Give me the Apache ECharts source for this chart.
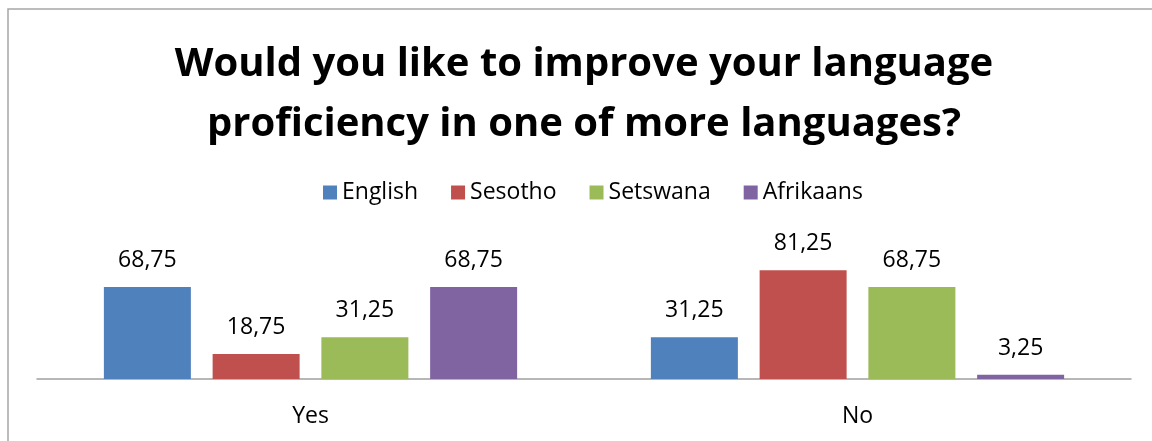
<!DOCTYPE html>
<html>
<head>
<meta charset="utf-8">
<script src="https://cdn.jsdelivr.net/npm/echarts@6/dist/echarts.min.js"></script>
<style>
  html, body { margin: 0; padding: 0; background: #fff; }
  #chart { width: 1152px; height: 441px; }
</style>
</head>
<body>
<div id="chart"></div>
<script>
const categories = ['Yes', 'No'];
const seriesNames = ['English', 'Sesotho', 'Setswana', 'Afrikaans'];
const english = [68.75, 31.25];
const sesotho = [18.75, 81.25];
const setswana = [31.25, 68.75];
const afrikaans = [68.75, 3.25];
const colors = ['#4f81bd', '#c0504d', '#9bbb59', '#8064a2'];

const FONT = '"Open Sans"';
const values = [english, sesotho, setswana, afrikaans];

const chart = echarts.init(document.getElementById('chart'));

chart.setOption({
  animation: false,
  color: colors,
  title: {
    text: 'Would you like to improve your language\nproficiency in one of more languages?',
    left: 584,
    textAlign: 'center',
    top: 35,
    padding: 0,
    textStyle: {
      fontFamily: FONT,
      fontWeight: 'bold',
      fontSize: 40,
      lineHeight: 60,
      color: '#000'
    }
  },
  legend: {
    top: 176,
    left: 318,
    itemWidth: 14,
    itemHeight: 14,
    itemGap: 33,
    icon: 'rect',
    textStyle: { fontFamily: FONT, fontSize: 23, color: '#000' },
    data: seriesNames
  },
  grid: { left: 37, right: 21, top: 245, bottom: 62, containLabel: false },
  xAxis: {
    type: 'category',
    data: categories,
    axisLine: { lineStyle: { color: '#a0a0a0', width: 1.5 } },
    axisTick: { show: false },
    axisLabel: { fontFamily: FONT, fontSize: 23, color: '#000', margin: 26 }
  },
  yAxis: {
    type: 'value',
    min: 0,
    max: 100,
    show: false,
    splitLine: { show: false }
  },
  graphic: [{
    type: 'rect',
    shape: { x: 8, y: 9, width: 1300, height: 600 },
    style: { fill: 'none', stroke: '#a6a6a6', lineWidth: 1.5 },
    silent: true
  }],
  series: seriesNames.map((name, i) => ({
    name: name,
    type: 'bar',
    data: values[i],
    barWidth: 87,
    barGap: '25%',
    label: {
      show: true,
      position: 'top',
      distance: 15,
      fontFamily: FONT,
      fontSize: 23,
      color: '#000',
      formatter: p => String(p.value).replace('.', ',')
    }
  }))
});
</script>
</body>
</html>
